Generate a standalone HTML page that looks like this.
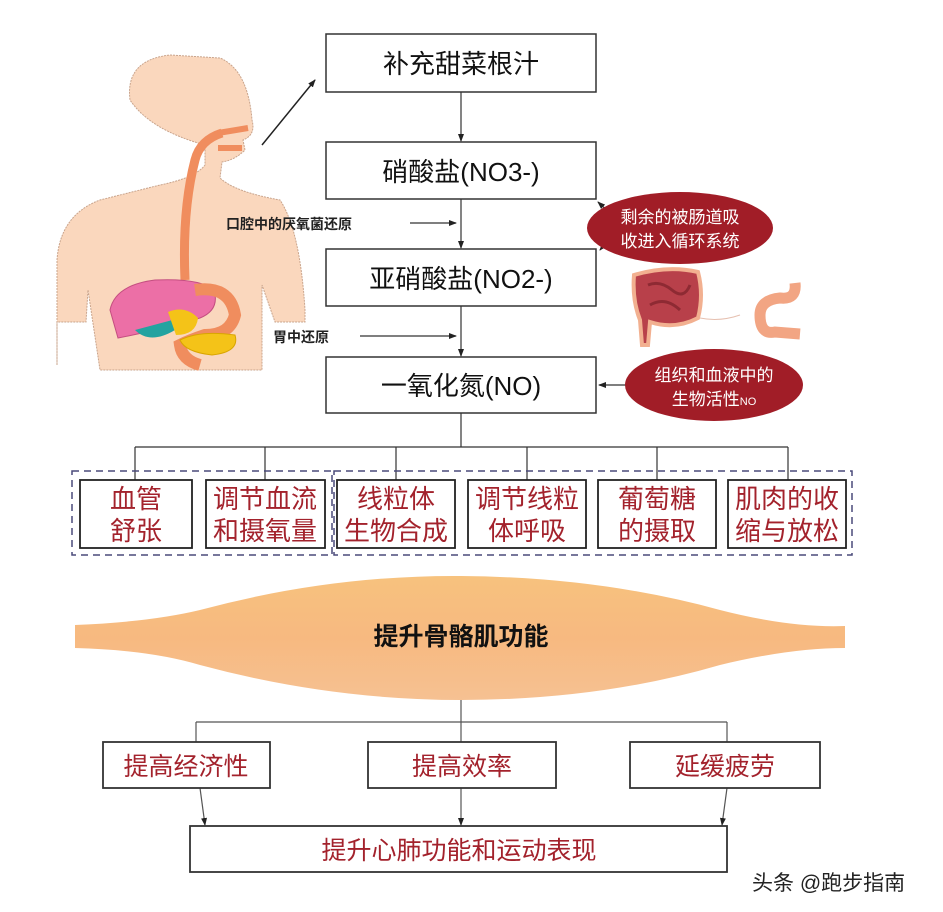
<!DOCTYPE html>
<html><head><meta charset="utf-8"><style>
html,body{margin:0;padding:0;background:#fff;}
svg{display:block;font-family:"Liberation Sans","Noto Sans CJK SC",sans-serif;}
</style></head><body>
<svg width="943" height="912" viewBox="0 0 943 912" xmlns="http://www.w3.org/2000/svg">
<defs>
<marker id="a" markerWidth="8" markerHeight="8" refX="7" refY="4" orient="auto" markerUnits="userSpaceOnUse"><path d="M0,1 L8,4 L0,7 Z" fill="#222"/></marker>
<linearGradient id="mg" x1="0" y1="0" x2="0" y2="1"><stop offset="0" stop-color="#f7c27e"/><stop offset="0.5" stop-color="#f7b980"/><stop offset="1" stop-color="#f6c192"/></linearGradient>
</defs>
<!-- body -->
<path d="M57,365 L57,260 Q60,215 100,200 L160,185 Q195,178 205,165 L205,145 Q150,130 130,100 Q125,60 170,55 L220,58 Q248,70 252,120 Q256,135 243,140 L245,150 Q235,160 222,162 L220,178 Q235,192 280,200 Q300,230 305,310 L305,322 L275,322 L262,285 L262,370 L100,370 L88,290 L86,322 L57,322 Z" fill="#fad7bd" stroke="#c9a48c" stroke-dasharray="2 1"/>
<path d="M222,133 Q200,140 195,160 Q182,210 185,280" stroke="#f08d5e" stroke-width="9" fill="none"/>
<path d="M218,133 L248,128 M218,148 L242,148" stroke="#f08d5e" stroke-width="6"/>
<path d="M110,310 Q115,285 155,280 Q200,278 214,290 Q220,310 200,318 Q160,330 118,338 Z" fill="#ec6fa6" stroke="#c44e80"/>
<path d="M135,330 Q150,345 175,330 L180,318 Z" fill="#23a3a0"/>
<path d="M168,312 Q185,305 198,318 Q196,335 176,335 Z" fill="#f4c318"/>
<path d="M195,290 Q230,285 235,315 Q230,335 205,335 Q190,340 180,345 Q182,360 200,365" stroke="#f08d5e" stroke-width="12" fill="none"/>
<path d="M180,340 Q200,330 235,335 Q240,352 212,355 Q185,352 180,340 Z" fill="#f4c318" stroke="#d9a500"/>
<line x1="262" y1="145" x2="315" y2="80" stroke="#222" stroke-width="1.5" marker-end="url(#a)"/>
<!-- main boxes -->
<g fill="#fff" stroke="#333" stroke-width="1.5">
<rect x="326" y="34" width="270" height="58"/>
<rect x="326" y="142" width="270" height="57"/>
<rect x="326" y="249" width="270" height="57"/>
<rect x="326" y="357" width="270" height="56"/>
</g>
<g font-size="26" fill="#111" text-anchor="middle">
<text x="461" y="73">补充甜菜根汁</text>
<text x="461" y="181">硝酸盐(NO3-)</text>
<text x="461" y="288">亚硝酸盐(NO2-)</text>
<text x="461" y="395">一氧化氮(NO)</text>
</g>
<g stroke="#333" stroke-width="1.2" fill="none">
<line x1="461" y1="92" x2="461" y2="141" marker-end="url(#a)"/>
<line x1="461" y1="199" x2="461" y2="248" marker-end="url(#a)"/>
<line x1="461" y1="306" x2="461" y2="356" marker-end="url(#a)"/>
<line x1="410" y1="223" x2="456" y2="223" marker-end="url(#a)"/>
<line x1="360" y1="336" x2="456" y2="336" marker-end="url(#a)"/>
<line x1="612" y1="215" x2="598" y2="202" marker-end="url(#a)"/>
<line x1="610" y1="238" x2="600" y2="250" marker-end="url(#a)"/>
<line x1="628" y1="385" x2="599" y2="385" marker-end="url(#a)"/>
<line x1="461" y1="413" x2="461" y2="447"/>
<line x1="135" y1="447" x2="788" y2="447"/>
<line x1="135" y1="447" x2="135" y2="480"/><line x1="265" y1="447" x2="265" y2="480"/>
<line x1="396" y1="447" x2="396" y2="480"/><line x1="527" y1="447" x2="527" y2="480"/>
<line x1="657" y1="447" x2="657" y2="480"/><line x1="788" y1="447" x2="788" y2="480"/>
</g>
<g font-size="14" font-weight="bold" fill="#222">
<text x="226" y="229">口腔中的厌氧菌还原</text>
<text x="273" y="342">胃中还原</text>
</g>
<!-- intestine -->
<path d="M634,275 Q632,300 640,320 L642,345 L648,345 L650,322 Q675,330 698,318 Q704,295 698,272 Q668,265 634,275 Z" fill="#b8404a" stroke="#f2b090" stroke-width="4"/>
<path d="M648,285 Q660,280 672,290 Q684,300 690,285 M650,305 Q665,296 680,310" stroke="#8e2a33" stroke-width="3" fill="none"/>
<path d="M700,318 Q720,322 740,315" stroke="#e6c0b0" stroke-width="1" fill="none"/>
<path d="M795,283 Q797,300 780,298 Q760,300 760,315 Q760,335 775,332 L800,334" stroke="#f2a583" stroke-width="11" fill="none"/>
<ellipse cx="680" cy="228" rx="93" ry="36" fill="#a11d27"/>
<ellipse cx="714" cy="385" rx="89" ry="36" fill="#a11d27"/>
<g font-size="17" fill="#fff" text-anchor="middle">
<text x="680" y="223">剩余的被肠道吸</text>
<text x="680" y="247">收进入循环系统</text>
<text x="714" y="381">组织和血液中的</text>
<text x="714" y="405">生物活性<tspan font-size="11">NO</tspan></text>
</g>
<!-- small boxes -->
<rect x="72" y="471" width="260" height="84" fill="none" stroke="#4a4a7a" stroke-width="1.5" stroke-dasharray="7 5"/>
<rect x="334" y="471" width="518" height="84" fill="none" stroke="#4a4a7a" stroke-width="1.5" stroke-dasharray="7 5"/>
<g fill="#fff" stroke="#222" stroke-width="1.8">
<rect x="80" y="480" width="112" height="68"/><rect x="206" y="480" width="119" height="68"/>
<rect x="337" y="480" width="118" height="68"/><rect x="468" y="480" width="118" height="68"/>
<rect x="598" y="480" width="118" height="68"/><rect x="728" y="480" width="118" height="68"/>
</g>
<g font-size="26" fill="#a3222c" text-anchor="middle">
<text x="136" y="508">血管</text><text x="136" y="540">舒张</text>
<text x="265" y="508">调节血流</text><text x="265" y="540">和摄氧量</text>
<text x="396" y="508">线粒体</text><text x="396" y="540">生物合成</text>
<text x="527" y="508">调节线粒</text><text x="527" y="540">体呼吸</text>
<text x="657" y="508">葡萄糖</text><text x="657" y="540">的摄取</text>
<text x="787" y="508">肌肉的收</text><text x="787" y="540">缩与放松</text>
</g>
<!-- muscle -->
<path d="M75,625 Q150,622 200,610 Q330,575 461,576 Q600,577 720,610 Q790,628 845,626 L845,648 Q790,648 720,665 Q600,700 461,700 Q330,700 200,665 Q150,650 75,648 Z" fill="url(#mg)"/>
<text x="461" y="645" font-size="25" font-weight="bold" fill="#111" text-anchor="middle">提升骨骼肌功能</text>
<!-- bottom -->
<g stroke="#555" stroke-width="1.2" fill="none">
<line x1="461" y1="700" x2="461" y2="742"/>
<line x1="196" y1="722" x2="727" y2="722"/>
<line x1="196" y1="722" x2="196" y2="742"/><line x1="727" y1="722" x2="727" y2="742"/>
<line x1="200" y1="788" x2="205" y2="825" marker-end="url(#a)"/>
<line x1="461" y1="788" x2="461" y2="825" marker-end="url(#a)"/>
<line x1="727" y1="788" x2="722" y2="825" marker-end="url(#a)"/>
</g>
<g fill="#fff" stroke="#333" stroke-width="1.8">
<rect x="103" y="742" width="167" height="46"/><rect x="368" y="742" width="188" height="46"/>
<rect x="630" y="742" width="190" height="46"/><rect x="190" y="826" width="537" height="46"/>
</g>
<g font-size="25" fill="#a3222c" text-anchor="middle">
<text x="186" y="775">提高经济性</text>
<text x="462" y="775">提高效率</text>
<text x="725" y="775">延缓疲劳</text>
<text x="459" y="859">提升心肺功能和运动表现</text>
</g>
<text x="752" y="890" font-size="21" fill="#222">头条 @跑步指南</text>
</svg>
</body></html>
